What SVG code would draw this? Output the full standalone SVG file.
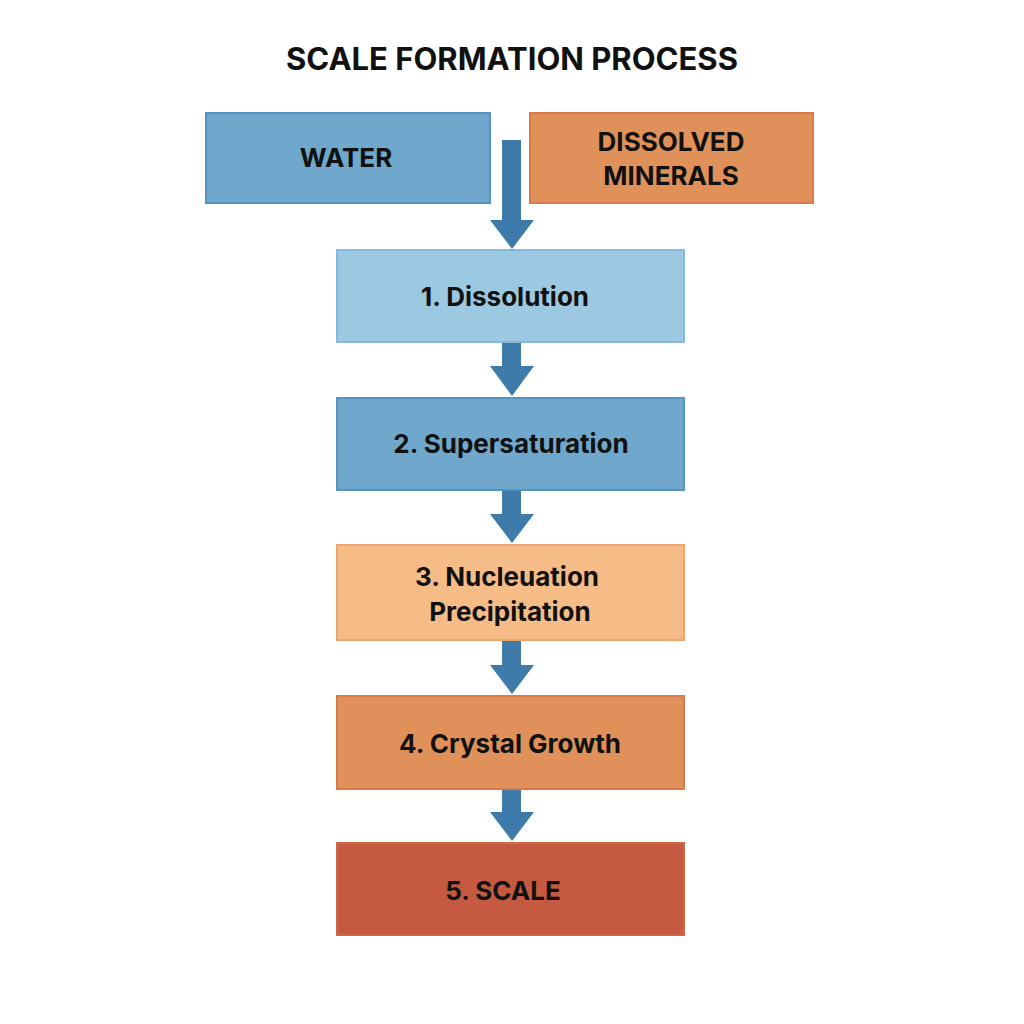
<svg xmlns="http://www.w3.org/2000/svg" width="1024" height="1024" viewBox="0 0 1024 1024">
<style>
text{font-family:Inter,"Noto Sans","Liberation Sans",sans-serif;font-weight:700;fill:#111;text-anchor:middle}
.t{font-size:26px}
.b{stroke-width:2}
.a{fill:#3e7bab}
</style>
<rect width="1024" height="1024" fill="#fff"/>
<text x="512" y="70" style="font-size:31px">SCALE FORMATION PROCESS</text>
<g id="connectors">
<polygon class="a" points="502,140 521,140 521,220 534,220 512,249 490,220 502,220"/>
<polygon class="a" points="502,342 521,342 521,366 534,366 512,396 490,366 502,366"/>
<polygon class="a" points="502,490 521,490 521,514 534,514 512,543 490,514 502,514"/>
<polygon class="a" points="502,640 521,640 521,665 534,665 512,694 490,665 502,665"/>
<polygon class="a" points="502,789 521,789 521,812 534,812 512,841 490,812 502,812"/>
</g>
<g id="water"><rect class="b" x="206" y="113" width="284" height="90" fill="#6fa8cc" stroke="#5593c1"/><text class="t" x="346" y="167">WATER</text></g>
<g id="minerals"><rect class="b" x="530" y="113" width="283" height="90" fill="#e0915a" stroke="#d97a4c"/><text class="t" x="671" y="151">DISSOLVED</text><text class="t" x="671" y="185">MINERALS</text></g>
<g id="s1"><rect class="b" x="337" y="250" width="347" height="92" fill="#9dc8e2" stroke="#86b9dc"/><text class="t" x="505" y="306">1. Dissolution</text></g>
<g id="s2"><rect class="b" x="337" y="398" width="347" height="92" fill="#6fa8cc" stroke="#5593c1"/><text class="t" x="511" y="453">2. Supersaturation</text></g>
<g id="s3"><rect class="b" x="337" y="545" width="347" height="95" fill="#f5bc88" stroke="#eea670"/><text class="t" x="507" y="586">3. Nucleuation</text><text class="t" x="510" y="621">Precipitation</text></g>
<g id="s4"><rect class="b" x="337" y="696" width="347" height="93" fill="#e0915a" stroke="#d97a4c"/><text class="t" x="510" y="753">4. Crystal Growth</text></g>
<g id="s5"><rect class="b" x="337" y="843" width="347" height="92" fill="#c55a40" stroke="#d06848"/><text class="t" x="503" y="900">5. SCALE</text></g>
</svg>
